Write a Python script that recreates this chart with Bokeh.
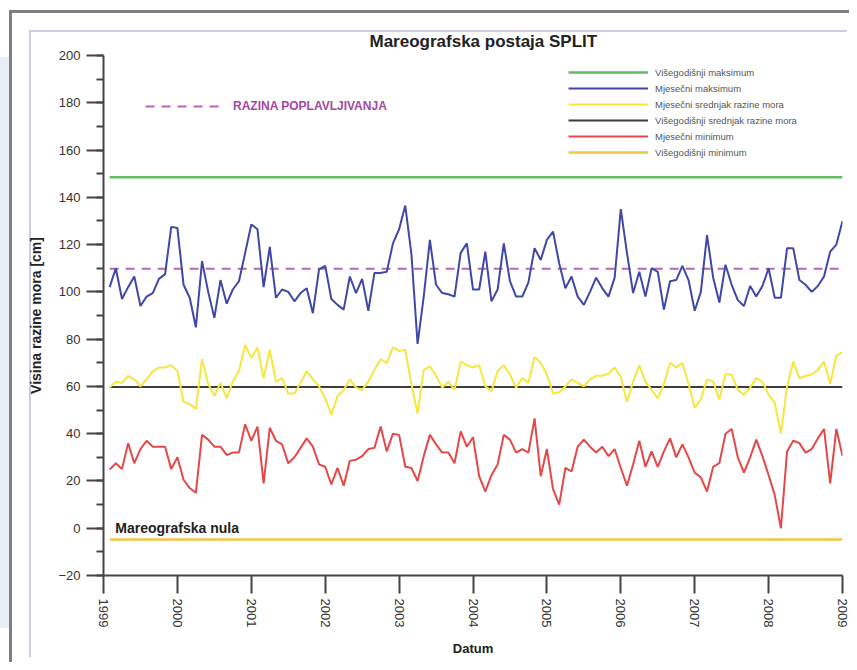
from bokeh.plotting import figure
from bokeh.models import (Range1d, FixedTicker, Legend, LegendItem, Label)
from bokeh.embed import file_html
from bokeh.resources import INLINE
import pandas as pd

# ---------------- data ----------------
start_month = "1999-02"
n_months = 120

monthly_max = [102, 110, 97, 102, 106.5, 94, 98, 99.5, 105.5, 107.5, 127.5, 127, 103, 97.5, 85, 113, 100, 89, 105, 95,
               101, 104.5, 116.5, 128.5, 126.5, 102, 119, 97.5, 101, 100, 96, 99.5, 101.5, 91, 109.5, 111, 97, 94.5, 92.5, 106.5,
               99.5, 105.5, 92, 108, 108, 108.5, 120.5, 126.5, 136.5, 116, 78, 98, 122, 103, 99.5, 99, 98, 116.5, 120.5, 101,
               101, 117, 96, 101, 120.5, 104.5, 98, 98, 104, 118.5, 113.5, 122, 125.5, 112, 101.5, 106.5, 98, 94.5, 100, 106,
               101.5, 98, 106, 135, 116.5, 99.5, 108.5, 98, 110, 108.5, 92.5, 104.5, 105, 111, 105, 92, 100, 124, 106, 95.5,
               111.5, 103, 96.5, 94, 102.5, 98, 102.5, 110, 97.5, 97.5, 118.5, 118.5, 105, 103, 100, 102.5, 106.5, 117, 120, 130]

monthly_mean = [59.5, 62, 61.5, 64.5, 63, 60, 63, 66.5, 68, 68, 69, 66.5, 53.5, 52.5, 50.5, 71.5, 61, 56, 61.5, 55,
                62, 66.5, 77.5, 72, 76.5, 63.5, 75.5, 62, 63.5, 57, 57, 61.5, 66.5, 63, 60, 55, 48, 56, 58.5, 63,
                59.5, 58.5, 62, 67, 71.5, 70, 76.5, 75, 75.5, 61, 48.5, 67, 68.5, 64.5, 59.5, 62, 58.5, 70.5, 69, 68,
                69, 60, 58, 66.5, 69, 65, 59.5, 63.5, 61.5, 72.5, 70, 65, 57, 57.5, 60, 63, 61.5, 60, 63, 64.5,
                64.5, 65.5, 68, 64, 53.5, 62, 69, 62, 58.5, 55, 61, 70, 68, 70, 61, 51, 54.5, 63, 62, 54.5,
                65, 65, 58.5, 56.5, 59.5, 63.5, 62, 56.5, 53, 40, 60, 70.5, 63.5, 64.5, 65, 67, 70.5, 61, 73, 74.5]

monthly_min = [24.8, 27.5, 25, 36, 27.5, 33.5, 37, 34.5, 34.5, 34.5, 25, 30, 20.5, 17, 15, 39.5, 37.5, 34.5, 34.5, 31,
               32, 32, 44, 37, 43, 19, 42.5, 37, 35.5, 27.5, 30, 34, 38, 34.5, 27, 26, 18.5, 25.5, 18, 28.5,
               29, 30.5, 33.5, 34, 43, 32.5, 40, 39.5, 26, 25.5, 20, 30.5, 39.5, 35.5, 32, 32, 27.5, 41, 34.5, 38.5,
               22, 15.5, 22.5, 27, 39.5, 37.5, 32, 33.5, 32, 46.5, 22, 33.5, 16.5, 10, 25.5, 24, 34.5, 37.5, 34.5, 32,
               34.5, 30.5, 33.5, 25.5, 18, 27, 37, 26, 32.5, 26, 32.5, 38, 30, 35.5, 30, 23.5, 21.5, 15.5, 26, 27.5,
               40, 42, 30, 23.5, 30, 37.5, 30.5, 22.5, 14, 0, 32.5, 37, 36, 32, 33.5, 38, 42, 19, 42, 30.5]

longterm_max = 148.5
longterm_mean = 59.7
longterm_min = -4.8
flood_level = 109.8

year_ticks = list(range(1999, 2010))
y_ticks = list(range(-20, 201, 20))
y_minor_ticks = list(range(-20, 201, 10))

title_text = "Mareografska postaja SPLIT"
y_label = "Visina razine mora [cm]"
x_label = "Datum"
zero_text = "Mareografska nula"
legend_names = ["Višegodišnji maksimum", "Mjesečni maksimum", "Mjesečni srednjak razine mora",
                "Višegodišnji srednjak razine mora", "Mjesečni minimum", "Višegodišnji minimum"]
flood_name = "RAZINA POPLAVLJIVANJA"

# decimal-year time axis
months = pd.date_range(start_month, periods=n_months, freq="MS")
t = [d.year + (d.month - 1) / 12 for d in months]
t_span = [t[0], t[-1]]

FONT = "Liberation Sans"

p = figure(width=849, height=662, output_backend="svg", toolbar_location=None,
           x_range=Range1d(1999, 2009), y_range=Range1d(-20, 200),
           min_border_left=103, min_border_right=7, min_border_top=55, min_border_bottom=87)

p.title.text = title_text
p.title.align = "left"
p.title.offset = 266
p.title.standoff = 9
p.title.text_font = FONT
p.title.text_font_size = "17px"
p.title.text_font_style = "bold"
p.title.text_color = "#222222"

p.border_fill_color = None
p.background_fill_color = "white"
p.outline_line_color = None
p.xgrid.visible = False
p.ygrid.visible = False
p.styles = {
    "background": ("linear-gradient(#7f7f7f,#7f7f7f) 9px 10px / 840px 3px no-repeat, "
                   "linear-gradient(#7f7f7f,#7f7f7f) 9px 10px / 3px 652px no-repeat, "
                   "linear-gradient(#cccce6,#cccce6) 29px 30px / 818px 2px no-repeat, "
                   "linear-gradient(#cccce6,#cccce6) 29px 30px / 2px 627px no-repeat, "
                   "linear-gradient(#e8eff7,#e8eff7) 0px 57px / 9px 571px no-repeat, white")
}

# axes
for ax in (p.xaxis[0], p.yaxis[0]):
    ax.axis_line_color = "#444444"
    ax.axis_line_width = 2
    ax.major_tick_line_color = "#444444"
    ax.major_tick_line_width = 2
    ax.minor_tick_line_color = "#444444"
    ax.minor_tick_line_width = 2
    ax.major_tick_in = 0
    ax.minor_tick_in = 0
    ax.major_label_text_font = FONT
    ax.major_label_text_font_size = "13px"
    ax.major_label_text_color = "#333333"
    ax.axis_label_text_font = FONT
    ax.axis_label_text_font_size = "13px"
    ax.axis_label_text_font_style = "bold"
    ax.axis_label_text_color = "#222222"

p.yaxis.ticker = FixedTicker(ticks=y_ticks, minor_ticks=y_minor_ticks)
p.yaxis.major_tick_out = 17
p.yaxis.minor_tick_out = 7
p.yaxis.major_label_standoff = 6
p.yaxis.axis_label = y_label
p.yaxis.axis_label_standoff = 11
p.yaxis.axis_label_text_font_size = "14px"

p.xaxis.ticker = FixedTicker(ticks=year_ticks, minor_ticks=[])
p.xaxis.major_tick_out = 18
p.xaxis.major_label_orientation = "vertical"
p.xaxis.major_label_standoff = 5
p.xaxis.axis_label = x_label
p.xaxis.axis_label_standoff = 11

# series
r_ltmax = p.line(t_span, [longterm_max] * 2, line_color="#62bd62", line_width=2.5)
r_flood = p.line(t_span, [flood_level] * 2, line_color="#b866b8", line_width=2, line_dash="9 7")
r_max = p.line(t, monthly_max, line_color="#3f48a8", line_width=2)
r_ltmean = p.line(t_span, [longterm_mean] * 2, line_color="#3c3c3c", line_width=2)
r_mean = p.line(t, monthly_mean, line_color="#f6e640", line_width=2)
r_min = p.line(t, monthly_min, line_color="#e54848", line_width=2)
r_ltmin = p.line(t_span, [longterm_min] * 2, line_color="#f2c64a", line_width=2.5)

legend = Legend(items=[LegendItem(label=n, renderers=[r]) for n, r in
                       zip(legend_names, [r_ltmax, r_max, r_mean, r_ltmean, r_min, r_ltmin])],
                location=(465, 415), orientation="vertical",
                glyph_width=80, glyph_height=16, label_height=16, label_standoff=7,
                spacing=0, padding=0, margin=0,
                border_line_color=None, background_fill_alpha=0,
                label_text_font=FONT, label_text_font_size="9.5px", label_text_color="#555555")
p.add_layout(legend)

legend2 = Legend(items=[LegendItem(label=flood_name, renderers=[r_flood])],
                 location=(42, 461), glyph_width=80, glyph_height=16, label_height=16,
                 label_standoff=8, padding=0, margin=0, border_line_color=None,
                 background_fill_alpha=0, label_text_font=FONT, label_text_font_size="12px",
                 label_text_font_style="bold", label_text_color="#a447a4")
p.add_layout(legend2)

p.add_layout(Label(x=1999.16, y=0, text=zero_text, text_align="left", text_baseline="middle",
                   text_font=FONT, text_font_size="14px", text_font_style="bold", text_color="#222222"))

open("out.html", "w").write(file_html(p, INLINE))
